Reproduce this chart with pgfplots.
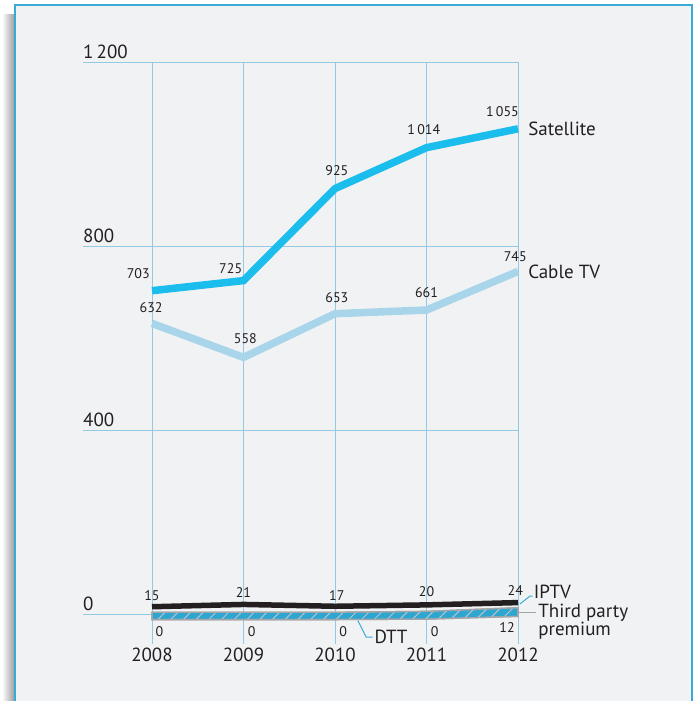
\documentclass[border=0pt]{standalone}
\usepackage{pgfplots}
\pgfplotsset{compat=1.18}
\usepackage{fontspec}
\setmainfont{PT Sans}
\usetikzlibrary{patterns.meta}
\definecolor{bg}{HTML}{F1F2F4}
\definecolor{frame}{HTML}{3AAAD6}
\definecolor{gridc}{HTML}{93C9E2}
\definecolor{sat}{HTML}{1BBDEC}
\definecolor{cab}{HTML}{A9D5EA}
\definecolor{dtt}{HTML}{2EA6D2}
\definecolor{tpp}{HTML}{A3A5A8}
\definecolor{hatch}{HTML}{B9C3C8}
\definecolor{txt}{HTML}{231F20}
\begin{document}
\begin{tikzpicture}[x=1pt,y=1pt]
\useasboundingbox (0,0) rectangle (696,701);
\fill[white] (0,0) rectangle (696,701);
\shade[left color=white, right color=black!40] (2,0) rectangle (15,686);
\fill[bg] (15,-5) rectangle (692,696);
\draw[frame, line width=2.4pt] (15,-5) -- (15,696) -- (692,696) -- (692,-5);
\begin{axis}[
  at={(83pt,57pt)}, anchor=south west,
  scale only axis, width=435pt, height=581.9pt,
  xmin=-0.754, xmax=4, ymin=-65, ymax=1200,
  clip=false,
  axis line style={draw=none},
  major tick length=0pt,
  xtick={0,1,2,3,4}, xticklabels={2008,2009,2010,2011,2012},
  ytick={0,400,800,1200}, yticklabels={0,400,800,1\,200},
  xmajorgrids, ymajorgrids,
  grid style={gridc, line width=0.9pt},
  /pgf/number format/assume math mode=true,
  xticklabel style={anchor=north, inner sep=0pt, yshift=-4pt, font=\fontsize{19}{19}\selectfont, text=txt},
  yticklabel style={anchor=south west, inner sep=0pt, xshift=0pt, yshift=3pt, font=\fontsize{19}{19}\selectfont, text=txt},
]
% Third party premium / DTT band
\addplot[draw=tpp, line width=1.3pt, fill=dtt, postaction={pattern={Lines[angle=45, distance=9pt, line width=1pt]}, pattern color=hatch}]
  coordinates {(0,4)(1,4)(2,4)(3,6)(4,14)(4,-5)(3,-11)(2,-12)(1,-12)(0,-12)} -- cycle;
% IPTV
\addplot[txt, line width=5.5pt] coordinates {(0,16)(1,21)(2,17)(3,20)(4,25)};
% Cable TV
\addplot[cab, line width=7.5pt] coordinates {(0,632)(1,558)(2,653)(3,661)(4,745)};
% Satellite
\addplot[sat, line width=7.5pt] coordinates {(0,703)(1,725)(2,925)(3,1014)(4,1055)};
% leaders
\draw[frame, line width=1pt] (axis cs:4.02,22) -- (axis cs:4.13,39) -- (axis cs:4.16,39);
\draw[tpp, line width=1.2pt] (axis cs:4,4) -- (axis cs:4.2,4);
\draw[frame, line width=1pt] (axis cs:2.25,-14) -- (axis cs:2.34,-50) -- (axis cs:2.41,-50);
% series labels
\begin{scope}[every node/.style={text=txt, font=\fontsize{19}{17}\selectfont, inner sep=0pt}]
\node[anchor=west] at (axis cs:4.11,1054) {Satellite};
\node[anchor=west] at (axis cs:4.11,743) {Cable TV};
\node[anchor=west] at (axis cs:4.17,48) {IPTV};
\node[anchor=west, align=left] at (axis cs:4.22,-16) {Third party\\premium};
\node[anchor=west] at (axis cs:2.43,-50) {DTT};
\end{scope}
% value labels
\begin{scope}[every node/.style={text=txt, font=\fontsize{14}{14}\selectfont, inner sep=0pt}]
\node at (axis cs:-0.15,741) {703};
\node at (axis cs:0.86,752) {725};
\node at (axis cs:2.02,965) {925};
\node at (axis cs:2.97,1054) {1\,014};
\node at (axis cs:3.83,1093) {1\,055};
\node at (axis cs:-0.01,667) {632};
\node at (axis cs:1.02,598) {558};
\node at (axis cs:2.02,689) {653};
\node at (axis cs:3.0,698) {661};
\node at (axis cs:3.97,778) {745};
\node at (axis cs:0,41) {15};
\node at (axis cs:1,48) {21};
\node at (axis cs:2.02,41) {17};
\node at (axis cs:3,48) {20};
\node at (axis cs:3.97,52) {24};
\node at (axis cs:0.08,-39) {0};
\node at (axis cs:1.09,-39) {0};
\node at (axis cs:2.09,-39) {0};
\node at (axis cs:3.09,-39) {0};
\node at (axis cs:3.88,-30) {12};
\end{scope}
\end{axis}
\end{tikzpicture}
\end{document}
